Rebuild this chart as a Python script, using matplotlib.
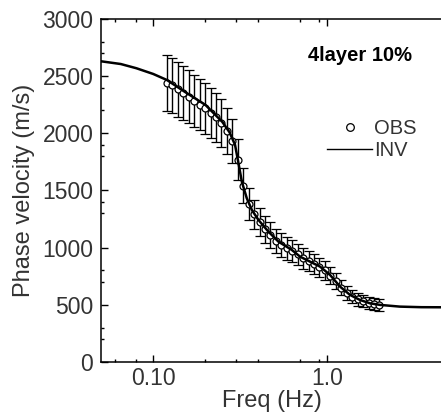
import matplotlib
matplotlib.use('Agg')
import matplotlib.pyplot as plt
from matplotlib.lines import Line2D
from matplotlib.ticker import FixedLocator, NullFormatter

plt.rcParams['font.family'] = ['Liberation Sans', 'DejaVu Sans']

# observed dispersion points (Hz, m/s) and their error (10 %)
obs_freq = [0.120, 0.129, 0.139, 0.149, 0.160, 0.172, 0.185, 0.199, 0.214, 0.230,
            0.247, 0.266, 0.286, 0.307, 0.330, 0.355, 0.381, 0.410, 0.441, 0.474,
            0.509, 0.547, 0.588, 0.632, 0.680, 0.731, 0.785, 0.844, 0.908, 0.976,
            1.049, 1.127, 1.212, 1.303, 1.400, 1.505, 1.618, 1.740, 1.870, 2.010]
obs_vel = [2440, 2420, 2385, 2350, 2320, 2285, 2250, 2220, 2180, 2140,
           2090, 2020, 1930, 1770, 1540, 1385, 1290, 1225, 1160, 1110,
           1060, 1025, 995, 970, 940, 905, 880, 855, 830, 800,
           755, 705, 650, 605, 572, 548, 530, 515, 505, 497]
obs_err = [244, 242, 239, 235, 232, 229, 225, 222, 218, 214,
           209, 202, 193, 177, 154, 139, 129, 123, 116, 111,
           106, 103, 100, 97, 94, 91, 88, 86, 83, 80,
           76, 71, 65, 61, 57, 55, 53, 52, 51, 50]

# inverted (model) curve
inv_freq = [0.050, 0.065, 0.080, 0.100, 0.120, 0.153, 0.200, 0.250, 0.275, 0.296,
            0.310, 0.324, 0.346, 0.370, 0.404, 0.461, 0.527, 0.629, 0.702, 0.802,
            0.915, 1.045, 1.193, 1.363, 1.555, 1.776, 2.030, 2.640, 3.500, 5.000]
inv_vel = [2630, 2606, 2569, 2519, 2466, 2360, 2248, 2100, 2010, 1900,
           1738, 1577, 1432, 1330, 1242, 1140, 1052, 980, 921, 877,
           834, 761, 659, 586, 542, 513, 499, 484, 479, 478]

text_col = '#333333'

fig = plt.figure(figsize=(4.41, 4.17), dpi=100)
ax = fig.add_axes([0.229, 0.132, 0.787, 0.8225])

ax.errorbar(obs_freq, obs_vel, yerr=obs_err, fmt='o', ms=5, mfc='white', mec='black',
            mew=0.9, ecolor='black', elinewidth=1.0, capsize=3.5, capthick=1.0, zorder=2)
ax.plot(inv_freq, inv_vel, color='black', lw=1.8, zorder=3)

ax.set_xscale('log')
ax.set_xlim(0.05, 5)
ax.set_ylim(0, 3000)

ax.xaxis.set_major_locator(FixedLocator([0.1, 1.0]))
ax.set_xticklabels(['0.10', '1.0'])
ax.xaxis.set_minor_locator(FixedLocator([0.06, 0.08, 0.2, 0.3, 0.4, 0.7, 0.9]))
ax.xaxis.set_minor_formatter(NullFormatter())
ax.yaxis.set_major_locator(FixedLocator([0, 500, 1000, 1500, 2000, 2500, 3000]))
ax.yaxis.set_minor_locator(FixedLocator([200, 300, 700, 800, 1300, 1400, 1800, 1900,
                                         2200, 2400, 2700, 2800]))

ax.tick_params(which='both', direction='in', top=True, right=True, width=1.0,
               colors='black', labelcolor=text_col, labelsize=16.5)
ax.tick_params(which='major', length=5)
ax.tick_params(which='minor', length=2.5)
ax.tick_params(axis='y', pad=5.5)
ax.tick_params(axis='x', pad=3.5)
for sp in ax.spines.values():
    sp.set_linewidth(1.1)

ax.set_xlabel('Freq (Hz)', fontsize=17, color=text_col)
ax.set_ylabel('Phase velocity (m/s)', fontsize=17, color=text_col)
ax.xaxis.set_label_coords(0.493, -0.082)
ax.yaxis.set_label_coords(-0.19, 0.5)

fig.text(0.816, 0.868, '4layer 10%', ha='center', va='center', fontsize=14.5,
         fontweight='bold', color='black')

handles = [Line2D([], [], ls='none', marker='o', ms=5.5, mfc='white', mec='black', mew=0.9),
           Line2D([], [], color='black', lw=1.0)]
ax.legend(handles, ['OBS', 'INV'], frameon=False, fontsize=14.5, labelcolor=text_col,
          loc='upper left', bbox_to_anchor=(327 / 441, 1 - 119 / 417),
          bbox_transform=fig.transFigure, borderpad=0, labelspacing=0.15,
          handlelength=2.25, handletextpad=0.1, borderaxespad=0)

fig.savefig('out.png', dpi=100)
